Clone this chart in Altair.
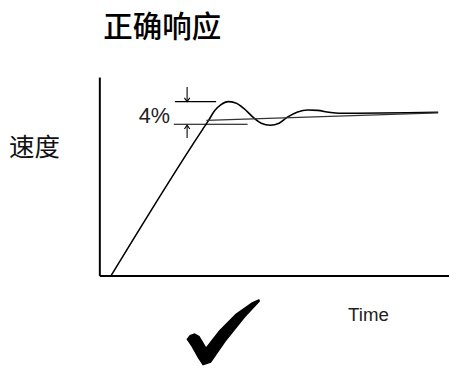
import altair as alt
import pandas as pd

# ---- data ----
curve_t = [3.4, 29.5, 31.2, 32.9, 34.8, 36.8, 39.0, 41.3, 44.1, 46.3, 48.9, 51.4,
           53.9, 56.7, 59.6, 62.4, 65.7, 68.5, 96.9]
curve_v = [0.0, 73.5, 78.0, 82.9, 86.1, 87.6, 86.9, 84.2, 79.5, 76.7, 75.7, 76.7,
           79.9, 82.4, 83.4, 83.2, 82.2, 81.7, 82.2]
steady_t = [30.6, 96.9]
steady_v = [78.2, 81.9]

band_x1 = [21.6, 21.3]
band_x2 = [33.4, 42.4]
band_y = [87.6, 76.2]

arrow_x = [25.1, 25.1]
arrow_from = [95.0, 69.3]
arrow_to = [87.6, 75.7]
arrow_dir = ["down", "up"]

title_text = ["正确响应"]
ylabel_text = ["速度"]
xlabel_text = ["Time"]
band_text = ["4%"]

xs = alt.Scale(domain=[0, 100], nice=False, zero=False)
ys = alt.Scale(domain=[0, 100], nice=False, zero=False)
ax = alt.Axis(domainColor="black", domainWidth=2, ticks=False, labels=False,
              grid=False, title=None)

def X(f):
    return alt.X(f, type="quantitative", scale=xs, axis=ax)

def Y(f):
    return alt.Y(f, type="quantitative", scale=ys, axis=ax)

curve_df = pd.DataFrame({"t": curve_t, "v": curve_v})
steady_df = pd.DataFrame({"t": steady_t, "v": steady_v})
band_df = pd.DataFrame({"x1": band_x1, "x2": band_x2, "y": band_y})
arrow_df = pd.DataFrame({"x": arrow_x, "y1": arrow_from, "y2": arrow_to, "d": arrow_dir})

curve = alt.Chart(curve_df).mark_line(color="black", strokeWidth=1.6,
                                      interpolate="monotone").encode(x=X("t"), y=Y("v"))
steady = alt.Chart(steady_df).mark_line(color="#333333", strokeWidth=1.3).encode(
    x=X("t"), y=Y("v"))
bands = alt.Chart(band_df).mark_rule(color="black", strokeWidth=1.2).encode(
    x=X("x1"), x2="x2", y=Y("y"))
arrows = alt.Chart(arrow_df).mark_rule(color="black", strokeWidth=1.1).encode(
    x=X("x"), y=Y("y1"), y2="y2")
head_down = alt.Chart(arrow_df[arrow_df.d == "down"]).mark_point(
    shape="M -1 -1.4 L 0 0 L 1 -1.4", filled=False, color="black", strokeWidth=1.1,
    size=30, opacity=1).encode(x=X("x"), y=Y("y2"))
head_up = alt.Chart(arrow_df[arrow_df.d == "up"]).mark_point(
    shape="M -1 1.4 L 0 0 L 1 1.4", filled=False, color="black", strokeWidth=1.1,
    size=30, opacity=1).encode(x=X("x"), y=Y("y2"))

title = alt.Chart(pd.DataFrame({"s": title_text})).mark_text(
    font="Noto Sans CJK SC", fontSize=30, fontWeight=500, align="center",
    baseline="alphabetic", color="black").encode(
    x=alt.value(64), y=alt.value(-41), text="s:N")
ylabel = alt.Chart(pd.DataFrame({"s": ylabel_text})).mark_text(
    font="Noto Sans CJK SC", fontSize=26, align="center", baseline="alphabetic",
    color="#111111").encode(x=alt.value(-66), y=alt.value(80), text="s:N")
xlabel = alt.Chart(pd.DataFrame({"s": xlabel_text})).mark_text(
    font="Liberation Sans", fontSize=19, align="center", baseline="alphabetic",
    color="#222222").encode(x=alt.value(274), y=alt.value(248), text="s:N")
pct = alt.Chart(pd.DataFrame({"s": band_text})).mark_text(
    font="Liberation Sans", fontSize=22, align="right", baseline="alphabetic",
    color="#222222").encode(x=alt.value(72), y=alt.value(47), text="s:N")

check_path = ("M -1.008 0.189 L -0.919 0.073 L -0.784 0.027 L -0.649 0.1 L -0.468 0.405 "
              "L -0.108 -0.062 L 0.343 -0.514 L 0.792 -0.83 L 0.992 -0.919 L 1.019 -0.857 "
              "L 0.614 -0.424 L 0.073 0.251 L -0.332 0.838 L -0.559 0.911 L -0.695 0.703 "
              "L -0.873 0.386 Z")
check = alt.Chart(pd.DataFrame({"s": ["ok"]})).mark_point(
    shape=check_path, filled=True, color="black", opacity=1, size=5476,
    strokeWidth=0).encode(x=alt.value(126), y=alt.value(260))

chart = alt.layer(curve, steady, bands, arrows, head_down, head_up,
                  title, ylabel, xlabel, pct, check).properties(
    width=356, height=202,
    autosize=alt.AutoSizeParams(type="none"),
    padding={"left": 93, "top": 67, "right": 0, "bottom": 92},
    background="white",
).configure_view(stroke=None)

chart.save("out.html", embed_options={"renderer": "svg", "actions": False})
